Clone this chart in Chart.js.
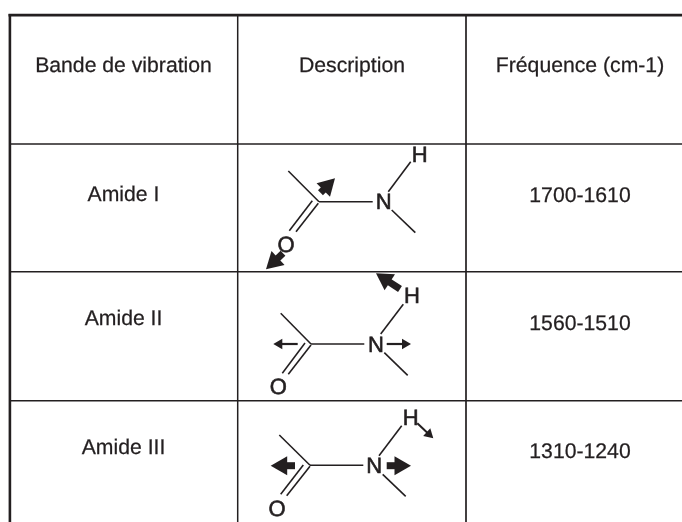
<!DOCTYPE html>
<html><head><meta charset="utf-8">
<style>html,body{margin:0;padding:0;background:#fff}canvas{display:block}</style>
<script src="https://cdn.jsdelivr.net/npm/chart.js@4"></script>
</head><body><canvas id="c" width="682" height="522"></canvas>
<script>
const INK = '#231f20';
// Table rules [x1,y1,x2,y2,width]
const outerRules = [[8.5,15.2,682,15.2,2.8],[9.9,14,9.9,522,2.6]];
const innerRules = [[237.7,15,237.7,522,1.5],[466,15,466,522,1.7],
  [10,144,682,144,1.6],[10,271.7,682,271.7,1.6],[10,400.7,682,400.7,1.6]];
// Molecule bonds [x1,y1,x2,y2]
const bondsAmideI = [[288.3,171,319,201.7],[319,201.7,372.7,201.7],[312.3,200.7,289.3,230.7],[318.3,203.3,296,231.7],[388.3,191.7,410.7,161.7],[391.7,210,415.3,232.7]];
const bondsAmideII = [[280.7,313.3,311,344],[311,344,364.3,344],[305,343,282.3,373.3],[311,345,288.3,374.3],[380.7,334,403.3,304.3],[384.3,352.7,407.7,375.3]];
const bondsAmideIII = [[279.3,435,310,465.3],[310,465.3,363.3,465.3],[303.3,465,280.7,494.3],[310,466.3,286.7,495.7],[379,455.7,401.7,425.7],[382.7,474.3,405.7,496.3]];
// Arrows [tailX,tailY,tipX,tipY,shaftWidth,headRadius]
const arrows = [
  [320.5,192.7,335,178.3,7,11],[283,253.3,266,269.3,7,11],
  [400,289,376,273.3,7,11],[297.7,344,273.3,344,2.2,6],[386.7,344,411,344,2.2,6],
  [295,465.7,270.7,465.7,7,11],[386.7,465.7,411,465.7,7,11],[417.3,423.3,433.3,438.3,2,6]
];
// Text
const headerLabels = ['Bande de vibration','Description','Fréquence (cm-1)'];
const bandLabels = ['Amide I','Amide II','Amide III'];
const frequencyLabels = ['1700-1610','1560-1510','1310-1240'];
const columnCentres = [123.5,352,580];
const headerY = 66.3, bandY = [195.3,319.5,448], frequencyY = [195.7,324,451.7];
const atomLabels = [['N',383.7,202.3],['H',419.7,155],['O',286,245.3],
  ['N',376,345.3],['H',412,296.3],['O',278.3,387.7],
  ['N',374.3,466.7],['H',410.7,418.3],['O',277,509.7]];

const seg = (s,w)=>({type:'line',data:[{x:s[0],y:s[1]},{x:s[2],y:s[3]}],borderColor:INK,borderWidth:w,pointRadius:0,fill:false,clip:false,tension:0});
const datasets = [];
outerRules.concat(innerRules).forEach(r=>datasets.push(seg(r,r[4])));
bondsAmideI.concat(bondsAmideII,bondsAmideIII).forEach(b=>datasets.push(seg(b,1.6)));
arrows.forEach(a=>{
  const dx=a[2]-a[0],dy=a[3]-a[1],len=Math.hypot(dx,dy),r=a[5];
  const cx=a[2]-dx/len*r,cy=a[3]-dy/len*r;
  const d=seg([a[0],a[1],cx,cy],a[4]);
  d.pointRadius=[0,r];d.pointHoverRadius=[0,r];d.pointStyle='triangle';
  d.pointRotation=Math.atan2(dx,-dy)*180/Math.PI;
  d.pointBackgroundColor=INK;d.pointBorderColor=INK;d.pointBorderWidth=0;
  datasets.push(d);
});
const textPlugin={id:'tableText',afterDatasetsDraw(ch){
  const c=ch.ctx,X=ch.scales.x,Y=ch.scales.y;
  c.save();c.fillStyle=INK;c.strokeStyle=INK;c.textAlign='center';c.textBaseline='middle';
  c.textRendering='geometricPrecision';
  const put=(t,x,y)=>{const px=X.getPixelForValue(x),py=Y.getPixelForValue(y);c.fillText(t,px,py);c.strokeText(t,px,py);};
  c.font='21.2px "Liberation Sans"';c.lineWidth=0.25;
  headerLabels.forEach((t,i)=>put(t,columnCentres[i],headerY));
  bandLabels.forEach((t,i)=>put(t,columnCentres[0],bandY[i]));
  frequencyLabels.forEach((t,i)=>put(t,columnCentres[2],frequencyY[i]));
  c.font='22px "Liberation Sans"';c.lineWidth=0.6;
  atomLabels.forEach(a=>put(a[0],a[1],a[2]+0.6));
  c.restore();
}};
new Chart(document.getElementById('c'),{
  type:'scatter',data:{datasets},plugins:[textPlugin],
  options:{responsive:false,animation:false,events:[],layout:{padding:0,autoPadding:false},
    plugins:{legend:{display:false},tooltip:{enabled:false},title:{display:false}},
    scales:{x:{type:'linear',min:0,max:682,display:false},y:{type:'linear',min:0,max:522,reverse:true,display:false}}}
});
</script></body></html>
